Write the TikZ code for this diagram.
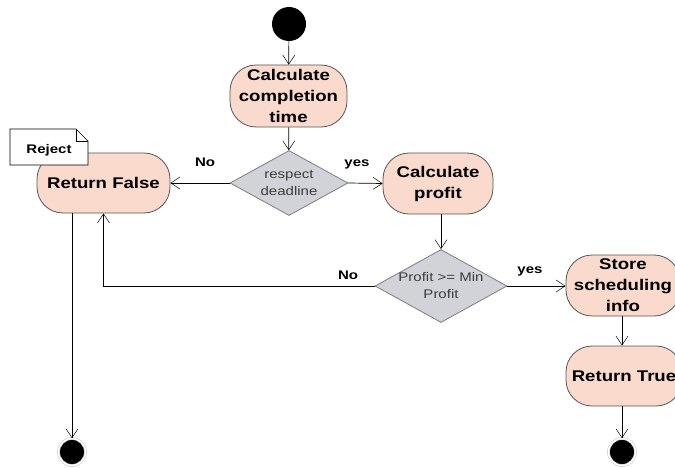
\documentclass[tikz,border=0pt]{standalone}
\usepackage{fontspec}
\setmainfont{Liberation Sans}
\newfontfamily\wide[FakeStretch=1.2]{Liberation Sans}
\usetikzlibrary{shapes.geometric,arrows.meta,calc}
\definecolor{actfill}{RGB}{250,218,205}
\definecolor{actline}{RGB}{85,85,85}
\definecolor{decfill}{RGB}{209,211,217}
\definecolor{decline}{RGB}{125,125,125}
\definecolor{dectext}{RGB}{60,60,60}
\begin{document}
\begin{tikzpicture}[x=1pt,y=-1pt,
  activity/.style={draw=actline,fill=actfill,rounded corners=26pt,line width=0.8pt,
    align=center,inner sep=0pt,font=\wide\bfseries\fontsize{15.5}{21}\selectfont},
  decision/.style={diamond,draw=decline,fill=decfill,line width=0.8pt,inner sep=0pt},
  dectxt/.style={align=center,text=dectext,inner sep=0pt,font=\wide\fontsize{12.5}{17}\selectfont},
  flow/.style={draw=black,line width=0.7pt,-{Straight Barb[length=9pt,width=12pt,line width=0.5pt]}},
  guard/.style={font=\wide\bfseries\fontsize{12.5}{14}\selectfont},
  startnode/.style={circle,fill=black,minimum size=34pt,inner sep=0pt},
  endnode/.style={circle,fill=black,minimum size=27pt,inner sep=0pt,
    double=white,double distance=1.5pt,draw=black!20,line width=0.6pt}]
\useasboundingbox (0,0) rectangle (675,468);

% initial node
\node[startnode] (start) at (289,24) {};

% activities
\node[activity,minimum width=117pt,minimum height=62pt] (calc) at (288.5,96)
  {Calculate\\completion\\time};
\node[activity,minimum width=133pt,minimum height=60pt] (rf) at (103.5,183) {Return False};
\node[activity,minimum width=110pt,minimum height=61pt] (cp) at (438,183.5) {Calculate\\profit};
\node[activity,minimum width=114pt,minimum height=61pt] (store) at (623,285.5)
  {Store\\scheduling\\info};
\node[activity,minimum width=116pt,minimum height=60pt] (rt) at (624,376) {Return True};

% decisions (empty diamonds, text laid on top)
\node[decision,minimum width=118pt,minimum height=65pt] (d1) at (289,183) {};
\node[dectxt] (d1t) at (d1) {respect\\deadline};
\node[decision,minimum width=132pt,minimum height=73pt] (d2) at (441,286) {};
\node[dectxt] (d2t) at (d2) {Profit >= Min\\Profit};

% note attached to Return False
\draw[fill=white,draw=black,line width=0.7pt]
  (10,129) -- (76,129) -- (88,141) -- (88,165) -- (10,165) -- cycle;
\draw[line width=0.6pt] (76,129) -- (76,141) -- (88,141);
\node[guard] (rej) at (49,150) {Reject};

% final nodes
\node[endnode] (end1) at (72,452) {};
\node[endnode] (end2) at (622,452) {};

% connectors
\draw[flow] (start) -- (calc);
\draw[flow] (calc) -- (d1);
\draw[flow] (d1.west) -- (rf.east);
\draw[flow] (d1.east) -- (cp.west);
\draw[flow] (cp.south -| d2.north) -- (d2.north);
\draw[flow] (d2.west) -| (rf.south);
\draw[flow] (d2.east) -- (d2.east -| store.west);
\draw[flow] (store.south -| end2) -- (rt.north -| end2);
\draw[flow] (rt.south -| end2) -- (end2);
\draw[flow] (rf.south -| end1) -- (end1);

% guards
\node[guard] at (205,162) {No};
\node[guard] at (357,164) {yes};
\node[guard] at (348,275) {No};
\node[guard] at (530,271) {yes};
\end{tikzpicture}
\end{document}
